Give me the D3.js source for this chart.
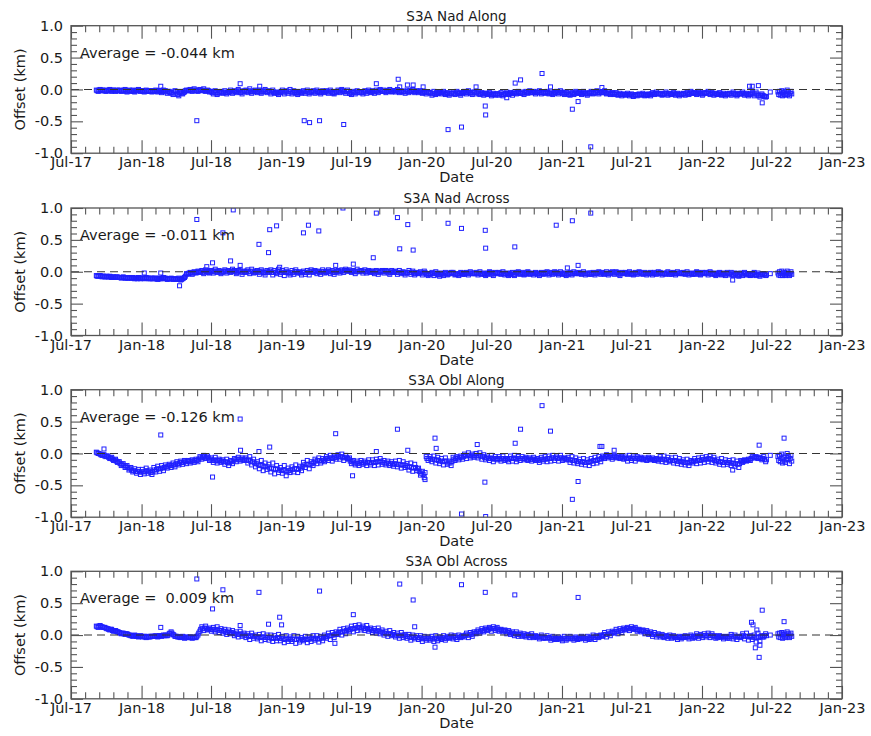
<!DOCTYPE html>
<html><head><meta charset="utf-8">
<script src="https://cdn.jsdelivr.net/npm/d3@7"></script>
<style>
body{margin:0;background:#fff}
svg{display:block;background:#fff}
text{font-family:"DejaVu Sans",sans-serif;fill:#1a1a1a}
</style>
</head><body>
<svg id="c" width="871" height="736"></svg>
<script>
// ---------------- DATA ----------------
const panelTitles = ["S3A Nad Along", "S3A Nad Across", "S3A Obl Along", "S3A Obl Across"];
const averageLabels = ["Average = -0.044 km", "Average = -0.011 km", "Average = -0.126 km", "Average =  0.009 km"];
const xTickDates = ["2017-07-01","2018-01-01","2018-07-01","2019-01-01","2019-07-01","2020-01-01","2020-07-01","2021-01-01","2021-07-01","2022-01-01","2022-07-01","2023-01-01"];
const xTickLabels = ["Jul-17","Jan-18","Jul-18","Jan-19","Jul-19","Jan-20","Jul-20","Jan-21","Jul-21","Jan-22","Jul-22","Jan-23"];
const yTickValues = [-1.0, -0.5, 0.0, 0.5, 1.0];
const yTickLabels = ["-1.0", "-0.5", "0.0", "0.5", "1.0"];
const xAxisLabel = "Date";
const yAxisLabel = "Offset (km)";

// regular acquisitions: series A every 5 days from bandStart, series B every 5 days from bandBStart,
// then a late cluster every 2 days
const bandStart = "2017-09-05", bandBStart = "2017-09-07", bandStepDays = 5;
const lateStart = "2022-07-18", lateStepDays = 2;

const nadAlongBand = [
-.01,-.03,0,-.02,-.01,-.03, -.02,0,-.03,-.01,-.03,-.01, -.01,-.03,-.02,0,-.04,-.02, -.03,-.01,-.04,-.02,0,-.03,
-.02,-.04,-.01,-.03,-.02,-.04, -.03,-.01,-.04,-.02,-.05,-.01, -.02,-.06,-.03,-.05,-.08,-.02, -.06,-.10,-.03,-.07,-.04,-.01,
-.02,0,-.03,.01,-.02,-.03, 0,-.02,.01,-.03,-.01,-.04, -.03,-.07,-.02,-.08,-.05,-.03, -.06,-.02,-.07,-.04,-.01,-.06,
-.02,-.05,0,-.04,-.07,-.02, -.01,-.05,.01,-.06,-.03,-.01, -.05,-.01,-.06,-.03,0,-.05, -.02,-.07,-.01,-.06,-.04,-.08,
-.05,-.01,-.07,-.02,-.06,0, -.07,-.02,-.05,-.08,-.03,-.06, -.02,-.06,-.01,-.07,-.04,-.02, -.06,-.01,-.04,-.07,-.02,-.05,
-.02,-.06,-.01,-.05,-.07,-.03, -.01,-.05,0,-.03,-.06,-.01, -.06,-.08,-.03,-.07,-.02,-.05, -.04,-.07,-.02,-.06,-.01,-.04,
-.02,-.06,-.01,-.05,0,-.03, -.01,-.05,-.03,0,-.04,-.02, -.04,0,-.05,-.02,-.03,-.06, -.01,-.05,-.03,0,-.05,-.02,
-.05,-.02,-.06,-.03,-.07,-.04, -.05,-.09,-.03,-.08,-.06,-.04, -.07,-.03,-.08,-.05,-.09,-.06, -.04,-.08,-.03,-.06,-.09,-.05,
-.03,-.07,-.02,-.05,-.08,-.04, -.07,-.03,-.08,-.05,-.09,-.06, -.08,-.05,-.10,-.06,-.09,-.07, -.09,-.05,-.10,-.07,-.04,-.08,
-.05,-.09,-.04,-.07,-.03,-.06, -.04,-.08,-.03,-.06,-.02,-.05, -.03,-.07,-.05,-.02,-.07,-.04, -.06,-.03,-.07,-.04,-.08,-.05,
-.03,-.07,-.02,-.05,-.08,-.04, -.07,-.09,-.05,-.08,-.03,-.06, -.05,-.08,-.03,-.06,-.09,-.05, -.03,-.07,-.05,-.02,-.07,-.04,
-.05,-.02,-.07,-.04,-.08,-.05, -.08,-.05,-.09,-.06,-.10,-.07, -.09,-.06,-.10,-.07,-.11,-.08, -.10,-.07,-.09,-.06,-.10,-.08,
-.07,-.10,-.05,-.08,-.04,-.07, -.06,-.09,-.07,-.04,-.09,-.06, -.08,-.05,-.09,-.06,-.10,-.07, -.06,-.09,-.05,-.08,-.03,-.06,
-.05,-.08,-.03,-.06,-.09,-.05, -.06,-.03,-.08,-.05,-.09,-.06, -.08,-.05,-.09,-.06,-.10,-.07, -.06,-.09,-.04,-.07,-.10,-.06,
-.07,-.04,-.09,-.06,-.10,-.07, -.05,-.10,-.04,-.09,-.12,-.07, -.10,-.12];
const nadAlongBandB = [
-.02,-.01,-.02,-.01,-.02,-.02, -.01,-.02,-.01,-.02,-.02,-.02, -.02,-.02,-.01,-.03,-.02,-.01, -.02,-.03,-.02,-.01,-.02,-.02,
-.03,-.02,-.03,-.02,-.03,-.02, -.02,-.03,-.02,-.03,-.03,-.02, -.04,-.03,-.05,-.06,-.04,-.03, -.08,-.05,-.06,-.05,-.02,-.02,
-.01,-.02,-.01,-.01,-.02,-.01, -.01,-.01,-.02,-.02,-.02,-.03, -.05,-.04,-.05,-.06,-.04,-.05, -.04,-.05,-.05,-.03,-.04,-.04,
-.03,-.03,-.02,-.05,-.04,-.03, -.03,-.02,-.03,-.04,-.02,-.03, -.03,-.04,-.04,-.02,-.03,-.03, -.04,-.04,-.04,-.05,-.06,-.05,
-.03,-.04,-.04,-.04,-.03,-.03, -.05,-.04,-.06,-.05,-.05,-.04, -.04,-.03,-.04,-.05,-.03,-.04, -.04,-.03,-.05,-.04,-.04,-.03,
-.04,-.04,-.03,-.06,-.05,-.04, -.03,-.02,-.02,-.04,-.03,-.03, -.06,-.05,-.05,-.04,-.04,-.05, -.05,-.04,-.04,-.03,-.03,-.05,
-.04,-.03,-.03,-.02,-.02,-.03, -.03,-.02,-.02,-.03,-.03,-.02, -.02,-.03,-.03,-.04,-.04,-.03, -.03,-.02,-.02,-.03,-.03,-.03,
-.03,-.04,-.05,-.05,-.04,-.05, -.06,-.07,-.06,-.05,-.06,-.05, -.05,-.06,-.06,-.07,-.07,-.06, -.06,-.06,-.05,-.07,-.06,-.05,
-.05,-.05,-.04,-.06,-.05,-.04, -.05,-.06,-.06,-.07,-.07,-.06, -.07,-.07,-.08,-.08,-.07,-.07, -.07,-.08,-.08,-.06,-.06,-.07,
-.06,-.06,-.06,-.05,-.05,-.06, -.06,-.05,-.05,-.04,-.04,-.05, -.05,-.04,-.04,-.05,-.05,-.05, -.05,-.05,-.06,-.06,-.06,-.05,
-.05,-.05,-.04,-.06,-.06,-.05, -.08,-.07,-.06,-.06,-.05,-.06, -.06,-.06,-.05,-.07,-.07,-.06, -.05,-.06,-.04,-.05,-.05,-.05,
-.04,-.05,-.06,-.06,-.06,-.06, -.07,-.07,-.08,-.08,-.08,-.08, -.08,-.08,-.08,-.09,-.09,-.09, -.08,-.08,-.08,-.08,-.09,-.09,
-.08,-.07,-.07,-.06,-.06,-.07, -.07,-.08,-.06,-.07,-.07,-.07, -.07,-.07,-.07,-.08,-.08,-.08, -.07,-.07,-.07,-.06,-.05,-.06,
-.06,-.06,-.05,-.07,-.07,-.06, -.05,-.06,-.06,-.07,-.07,-.07, -.07,-.07,-.08,-.08,-.08,-.07, -.07,-.07,-.06,-.08,-.08,-.07,
-.06,-.07,-.07,-.08,-.08,-.07, -.07,-.07,-.07,-.10,-.09,-.09, -.11,-.11];
const nadAlongLate = [-.04,-.08,-.03,-.09,-.06,-.02,-.10,-.05,-.08,-.03,-.09,-.06,-.01,-.08,-.04,-.10,-.06,-.03,-.07];
const nadAlongOutDates = ["2018-02-20","2018-05-25","2018-09-15","2018-11-05","2019-03-01","2019-03-15","2019-04-10","2019-06-12","2019-09-05","2019-11-01","2019-11-05","2019-11-25","2019-12-10","2020-01-05","2020-03-10","2020-04-14","2020-05-22","2020-06-15","2020-06-16","2020-08-10","2020-09-01","2020-09-15","2020-11-10","2020-12-02","2021-01-28","2021-02-12","2021-03-17","2021-04-15","2022-05-05","2022-05-12","2022-05-28","2022-06-07","2022-06-28"];
const nadAlongOutVals = [0.05,-0.49,0.09,0.05,-0.49,-0.52,-0.49,-0.55,0.09,0.16,0.04,0.07,0.07,0.04,-0.63,-0.59,0.04,-0.26,-0.40,-0.13,0.10,0.15,0.25,0.04,-0.31,-0.19,-0.90,0.03,0.05,0.05,0.06,-0.21,-0.04];

const nadAcrossBand = [
-.06,-.07,-.06,-.08,-.07,-.08, -.08,-.07,-.09,-.08,-.09,-.08, -.09,-.10,-.08,-.10,-.09,-.10, -.10,-.09,-.11,-.10,-.09,-.11,
-.10,-.11,-.09,-.10,-.11,-.10, -.11,-.10,-.12,-.10,-.11,-.09, -.10,-.12,-.11,-.10,-.12,-.11, -.12,-.10,-.13,-.11,-.09,-.03,
-.03,-.01,-.04,0,-.02,.01, -.01,.02,-.03,.03,0,-.02, .02,-.02,.04,-.01,.02,-.03, 0,.03,-.02,.02,-.01,.04,
.02,-.03,.01,.03,-.04,.01, -.01,.03,-.03,.04,-.02,0, .02,-.04,.03,-.01,-.05,.02, -.01,.03,-.05,.02,-.03,.04,
-.04,.02,-.06,.03,-.01,-.05, .02,-.04,.03,-.02,0,-.05, .01,-.04,.02,-.05,.03,-.01, .02,-.03,.01,-.04,.03,-.02,
-.01,.03,-.03,.02,-.04,.01, .02,-.02,.03,-.01,.04,.01, .03,-.01,.02,-.03,.04,0, .02,-.02,.03,-.02,.02,-.01,
.01,-.03,.02,-.04,0,.02, -.02,.02,0,-.04,.02,-.01, .01,-.04,.02,-.03,0,-.05, -.02,.02,-.04,.01,-.05,-.01,
-.03,0,-.05,.01,-.03,-.06, -.04,-.01,-.06,0,-.04,-.07, -.02,-.06,-.01,-.05,-.03,-.01, -.01,-.05,-.03,-.06,-.01,-.04,
-.04,-.01,-.05,0,-.03,-.02, -.01,-.05,0,-.04,-.02,-.06, -.04,0,-.02,-.06,-.01,-.03, -.01,-.04,0,-.05,-.02,-.06,
-.04,-.01,-.06,-.02,0,-.04, -.01,-.05,-.03,0,-.04,-.02, -.05,-.01,-.03,-.06,-.01,-.04, -.03,0,-.05,-.01,-.04,0,
-.01,-.05,0,-.04,-.02,-.06, -.04,-.01,-.05,0,-.03,-.02, -.01,-.04,0,-.05,-.02,-.04, -.04,-.01,-.05,-.02,0,-.04,
-.01,-.04,0,-.05,-.02,0, -.04,0,-.02,-.06,-.01,-.03, -.01,-.04,0,-.03,-.05,-.01, -.04,0,-.02,-.04,-.01,-.05,
-.03,-.01,-.05,-.01,-.04,0, -.01,-.05,-.02,-.04,0,-.04, -.04,-.01,-.05,0,-.03,-.02, -.01,-.04,0,-.05,-.02,-.04,
-.04,0,-.02,-.05,-.01,-.03, -.01,-.05,0,-.04,-.02,-.06, -.03,-.01,-.05,-.02,-.06,-.01, -.05,-.01,-.06,-.02,-.04,-.07,
-.02,-.06,-.01,-.05,-.03,-.06, -.05,-.01,-.06,-.02,-.07,-.04, -.03,-.06];
const nadAcrossBandB = [
-.07,-.06,-.07,-.07,-.08,-.07, -.08,-.08,-.08,-.09,-.08,-.09, -.09,-.09,-.09,-.10,-.10,-.09, -.10,-.10,-.10,-.11,-.10,-.10,
-.10,-.10,-.10,-.11,-.10,-.11, -.10,-.11,-.11,-.11,-.10,-.10, -.11,-.11,-.11,-.11,-.11,-.12, -.11,-.12,-.12,-.10,-.07,-.04,
-.02,-.02,-.02,-.01,-.01,0, 0,-.01,0,.01,-.01,0, 0,.01,.01,0,0,-.01, .01,.01,0,0,.01,.01,
0,-.01,.02,0,-.01,0, .01,0,0,.01,-.01,.01, -.01,0,.01,-.02,-.01,0, .01,-.01,-.01,-.01,0,.01,
-.01,-.01,-.01,0,-.02,-.02, -.01,0,0,-.01,-.02,-.01, -.01,-.01,-.01,0,.01,0, 0,0,-.01,0,0,0,
.01,0,0,-.01,-.01,0, 0,.01,.01,.02,.02,.01, .01,.01,0,0,.01,.01, .01,.01,0,0,0,.01,
-.01,0,0,-.01,.01,0, 0,.01,-.02,-.01,0,0, -.01,-.01,-.01,-.01,-.02,-.02, -.01,-.01,-.01,-.02,-.03,-.02,
-.02,-.02,-.02,-.01,-.04,-.03, -.03,-.03,-.03,-.02,-.05,-.04, -.04,-.03,-.03,-.04,-.02,-.02, -.03,-.04,-.04,-.03,-.02,-.03,
-.02,-.03,-.02,-.02,-.03,-.03, -.03,-.02,-.03,-.03,-.04,-.03, -.02,-.01,-.04,-.03,-.02,-.02, -.03,-.02,-.03,-.03,-.04,-.03,
-.02,-.04,-.04,-.01,-.02,-.03, -.03,-.04,-.01,-.02,-.03,-.03, -.03,-.02,-.04,-.03,-.02,-.03, -.01,-.03,-.03,-.02,-.02,-.02,
-.03,-.03,-.02,-.03,-.04,-.03, -.02,-.03,-.03,-.02,-.02,-.03, -.03,-.02,-.03,-.03,-.03,-.02, -.02,-.03,-.03,-.01,-.02,-.02,
-.03,-.02,-.03,-.03,-.01,-.02, -.02,-.01,-.04,-.03,-.02,-.02, -.03,-.02,-.02,-.04,-.03,-.02, -.02,-.01,-.03,-.02,-.03,-.03,
-.02,-.03,-.03,-.03,-.02,-.02, -.03,-.03,-.03,-.02,-.02,-.02, -.02,-.03,-.03,-.02,-.02,-.03, -.03,-.02,-.03,-.03,-.03,-.03,
-.02,-.01,-.04,-.03,-.02,-.02, -.03,-.02,-.02,-.03,-.04,-.04, -.02,-.03,-.04,-.04,-.03,-.03, -.03,-.04,-.04,-.03,-.06,-.04,
-.04,-.03,-.03,-.04,-.05,-.05, -.03,-.04,-.04,-.05,-.05,-.04, -.04,-.05];
const nadAcrossLate = [-.02,-.05,0,-.06,-.03,.01,-.06,-.02,-.05,-.01,-.06,-.03,.01,-.04,-.02,-.06,-.03,0,-.04];
const nadAcrossOutDates = ["2018-01-08","2018-02-20","2018-04-10","2018-05-25","2018-06-20","2018-07-05","2018-08-01","2018-08-21","2018-08-28","2018-09-15","2018-11-03","2018-11-28","2018-12-01","2018-12-19","2018-12-27","2019-02-27","2019-03-12","2019-04-08","2019-05-22","2019-06-10","2019-07-07","2019-08-28","2019-09-05","2019-10-30","2019-11-05","2019-11-26","2019-12-10","2020-03-10","2020-04-14","2020-06-15","2020-06-16","2020-08-31","2020-12-17","2021-01-15","2021-01-28","2021-02-12","2021-03-17","2022-03-22","2022-06-28"];
const nadAcrossOutVals = [-0.02,-0.02,-0.22,0.82,0.08,0.14,0.61,0.17,0.97,0.10,0.43,0.30,0.66,0.72,0.07,0.61,0.73,0.64,0.10,1.0,0.12,0.22,0.92,0.85,0.36,0.74,0.34,0.76,0.68,0.65,0.37,0.39,0.73,0.06,0.80,0.10,0.92,-0.13,-0.03];

const oblAlongBand = [
.02,0,-.01,-.03,-.02,-.05, -.04,-.08,-.06,-.11,-.09,-.14, -.13,-.19,-.16,-.22,-.19,-.26, -.22,-.29,-.24,-.31,-.25,-.33,
-.25,-.32,-.23,-.31,-.26,-.33, -.22,-.29,-.20,-.28,-.19,-.27, -.18,-.23,-.17,-.22,-.15,-.21, -.13,-.18,-.12,-.17,-.11,-.16,
-.11,-.15,-.10,-.14,-.09,-.13, -.05,-.09,-.03,-.08,-.04,-.11, -.07,-.14,-.06,-.15,-.09,-.14, -.10,-.17,-.09,-.19,-.11,-.16,
-.08,-.13,-.06,-.12,-.07,-.11, -.07,-.15,-.05,-.18,-.09,-.21, -.13,-.24,-.11,-.27,-.15,-.25, -.17,-.29,-.15,-.32,-.19,-.30,
-.22,-.31,-.19,-.35,-.23,-.30, -.21,-.29,-.18,-.30,-.20,-.27, -.14,-.22,-.11,-.24,-.13,-.19, -.09,-.16,-.07,-.15,-.08,-.13,
-.05,-.11,-.03,-.12,-.04,-.09, -.02,-.09,-.01,-.11,-.03,-.08, -.07,-.16,-.11,-.18,-.12,-.19, -.11,-.17,-.12,-.19,-.10,-.18,
-.10,-.19,-.09,-.18,-.08,-.17, -.11,-.18,-.12,-.19,-.13,-.20, -.12,-.21,-.11,-.23,-.13,-.22, -.16,-.26,-.15,-.28,-.17,-.27,
-.23,-.34,-.28,-.38,-.05,-.11, -.05,-.13,-.04,-.15,-.06,-.16, -.08,-.18,-.07,-.17,-.12,-.19, -.06,-.11,-.05,-.10,-.04,-.09,
-.01,-.08,.01,-.07,-.01,-.06, 0,-.07,.01,-.09,-.02,-.10, -.04,-.11,-.03,-.13,-.05,-.10, -.05,-.12,-.04,-.11,-.08,-.13,
-.04,-.12,-.03,-.13,-.05,-.11, -.05,-.10,-.06,-.11,-.07,-.12, -.06,-.11,-.08,-.14,-.06,-.12, -.05,-.13,-.04,-.12,-.03,-.11,
-.04,-.12,-.03,-.11,-.07,-.10, -.06,-.14,-.05,-.15,-.07,-.16, -.09,-.17,-.08,-.18,-.10,-.19, -.08,-.16,-.06,-.15,-.05,-.13,
-.04,-.08,-.02,-.07,-.03,-.09, -.03,-.07,-.04,-.08,-.05,-.09, -.04,-.12,-.03,-.11,-.04,-.12, -.05,-.09,-.06,-.10,-.07,-.11,
-.06,-.10,-.07,-.11,-.08,-.12, -.05,-.13,-.04,-.14,-.06,-.13, -.07,-.15,-.06,-.16,-.08,-.17, -.10,-.18,-.09,-.19,-.11,-.15,
-.08,-.16,-.07,-.15,-.06,-.14, -.05,-.13,-.04,-.14,-.06,-.15, -.09,-.17,-.08,-.18,-.10,-.17, -.11,-.19,-.10,-.20,-.12,-.22,
-.11,-.14,-.10,-.12,-.09,-.11, -.03,-.07,-.05,-.08,-.06,-.10, -.05,-.13];
const oblAlongBandB = [
.01,0,-.02,-.02,-.04,-.04, -.06,-.07,-.09,-.10,-.12,-.13, -.16,-.17,-.19,-.20,-.22,-.24, -.26,-.27,-.28,-.28,-.29,-.29,
-.29,-.28,-.27,-.28,-.30,-.29, -.26,-.25,-.24,-.24,-.23,-.22, -.21,-.20,-.19,-.19,-.18,-.17, -.16,-.15,-.14,-.14,-.13,-.12,
-.13,-.12,-.12,-.11,-.11,-.09, -.07,-.06,-.05,-.06,-.07,-.09, -.11,-.10,-.11,-.12,-.11,-.12, -.13,-.13,-.14,-.15,-.13,-.12,
-.10,-.09,-.09,-.10,-.09,-.09, -.11,-.10,-.12,-.13,-.15,-.16, -.18,-.19,-.19,-.21,-.20,-.21, -.23,-.24,-.24,-.25,-.24,-.26,
-.27,-.26,-.27,-.29,-.27,-.26, -.25,-.24,-.24,-.25,-.23,-.21, -.18,-.17,-.17,-.18,-.16,-.14, -.12,-.11,-.11,-.12,-.11,-.09,
-.08,-.07,-.07,-.08,-.06,-.06, -.05,-.05,-.06,-.07,-.06,-.09, -.12,-.13,-.15,-.15,-.16,-.15, -.14,-.15,-.15,-.14,-.14,-.15,
-.14,-.14,-.13,-.13,-.12,-.14, -.15,-.15,-.16,-.16,-.17,-.16, -.17,-.17,-.18,-.18,-.18,-.19, -.21,-.21,-.22,-.23,-.22,-.24,
-.28,-.31,-.33,-.30,-.08,-.08, -.09,-.09,-.10,-.10,-.11,-.12, -.13,-.12,-.12,-.15,-.15,-.13, -.09,-.08,-.07,-.07,-.06,-.05,
-.04,-.03,-.03,-.04,-.04,-.03, -.04,-.03,-.04,-.05,-.06,-.07, -.08,-.07,-.08,-.09,-.08,-.08, -.09,-.08,-.08,-.09,-.10,-.08,
-.08,-.07,-.08,-.09,-.08,-.08, -.08,-.08,-.09,-.09,-.09,-.09, -.09,-.10,-.11,-.10,-.09,-.09, -.09,-.08,-.08,-.07,-.07,-.07,
-.08,-.07,-.07,-.09,-.08,-.09, -.10,-.10,-.11,-.11,-.12,-.13, -.13,-.13,-.14,-.14,-.14,-.13, -.12,-.11,-.11,-.10,-.09,-.08,
-.06,-.05,-.05,-.05,-.06,-.06, -.05,-.06,-.06,-.07,-.07,-.07, -.08,-.07,-.08,-.07,-.08,-.08, -.07,-.08,-.08,-.09,-.09,-.09,
-.08,-.09,-.09,-.10,-.10,-.09, -.09,-.09,-.10,-.10,-.10,-.11, -.11,-.11,-.12,-.12,-.13,-.13, -.14,-.14,-.15,-.14,-.13,-.12,
-.12,-.11,-.11,-.10,-.10,-.09, -.09,-.08,-.09,-.10,-.11,-.12, -.13,-.13,-.14,-.14,-.14,-.14, -.15,-.15,-.16,-.16,-.17,-.16,
-.13,-.12,-.11,-.11,-.10,-.08, -.05,-.06,-.07,-.07,-.08,-.08, -.09,-.10];
const oblAlongLate = [-.05,-.11,-.03,-.13,-.08,-.01,-.15,-.06,-.12,-.04,-.14,-.09,0,-.10,-.05,-.16,-.08,-.03,-.12];
const oblAlongOutDates = ["2017-09-25","2018-02-20","2018-07-05","2018-09-15","2018-09-16","2018-11-03","2018-12-01","2019-05-22","2019-07-05","2019-09-05","2019-10-30","2019-11-26","2020-01-10","2020-02-05","2020-02-08","2020-04-14","2020-05-25","2020-06-14","2020-06-16","2020-09-01","2020-09-15","2020-11-10","2020-12-02","2021-01-28","2021-02-12","2021-04-10","2021-04-15","2021-05-17","2022-03-22","2022-05-30","2022-06-28","2022-08-03"];
const oblAlongOutVals = [0.07,0.29,-0.37,0.54,0.05,0.03,0.10,0.31,-0.35,0.03,0.38,0.05,-0.41,0.24,0.08,-0.95,0.14,-0.45,-0.99,0.16,0.38,0.75,0.35,-0.72,-0.44,0.11,0.11,0.05,-0.26,0.13,-0.03,0.24];

const oblAcrossBand = [
.14,.12,.15,.13,.12,.11, .10,.08,.09,.06,.07,.05, .04,.02,.03,.01,.02,0, -.01,-.02,0,-.02,-.03,-.01,
-.03,-.02,-.04,-.02,-.03,-.02, -.02,-.01,-.03,-.01,-.02,0, 0,-.01,.02,.05,.01,-.02, -.02,-.03,-.04,-.02,-.05,-.03,
-.04,-.03,-.05,-.03,-.04,0, .06,.13,.07,.14,.08,.11, .06,.12,.05,.13,.04,.10, .03,.09,.01,.08,.02,.07,
-.01,.05,-.03,.06,-.02,.03, -.04,.02,-.07,.03,-.05,0, -.06,.01,-.09,.02,-.07,0, -.08,0,-.10,-.01,-.09,.01,
-.09,-.02,-.12,-.01,-.10,-.03, -.10,-.01,-.13,-.02,-.11,-.04, -.09,-.02,-.12,-.03,-.10,-.01, -.08,-.01,-.11,-.02,-.09,0,
-.05,.03,-.07,.04,-.04,.05, .01,.09,0,.10,.02,.11, .06,.14,.05,.15,.07,.16, .08,.14,.07,.15,.06,.11,
.04,.10,.03,.11,.02,.08, 0,.06,-.02,.07,-.01,.04, -.03,.03,-.05,.04,-.04,.01, -.05,.01,-.08,0,-.06,-.01,
-.07,-.01,-.10,-.02,-.08,-.03, -.08,-.02,-.10,-.01,-.09,-.03, -.07,-.01,-.08,-.02,-.05,0, -.06,-.01,-.07,0,-.04,-.02,
-.03,.03,-.04,.04,-.02,.05, .02,.08,.03,.10,.05,.11, .07,.12,.06,.13,.07,.12, .06,.09,.05,.08,.02,.07,
.01,.05,-.01,.05,-.02,.03, -.02,.02,-.03,.01,-.04,.02, -.04,-.01,-.03,-.06,0,-.05, -.05,-.01,-.04,-.08,-.02,-.07,
-.07,-.03,-.06,-.09,-.02,-.08, -.06,-.02,-.05,-.08,-.03,-.07, -.06,-.02,-.05,-.08,-.02,-.07, -.06,0,-.07,-.01,-.04,0,
-.02,.04,-.03,.05,-.01,.06, .03,.09,.02,.10,.04,.11, .08,.12,.07,.13,.09,.12, .06,.09,.05,.08,.02,.07,
.01,.05,-.02,.04,-.03,.02, -.03,.01,-.04,-.01,-.05,0, -.05,-.01,-.04,-.07,-.02,-.06, -.04,-.01,-.03,-.06,0,-.05,
-.04,.02,-.05,.01,-.04,.02, -.03,.03,-.04,.02,-.03,-.05, -.04,-.01,-.03,-.06,-.02,-.05, -.05,.01,-.06,0,-.07,-.02,
-.04,.02,-.06,.03,-.08,-.01, -.07,0,-.11,.03,-.09,-.01, -.03,.02];
const oblAcrossBandB = [
.13,.14,.13,.12,.12,.10, .09,.09,.07,.07,.06,.05, .03,.03,.02,.02,.01,0, -.01,-.01,-.01,-.02,-.02,-.02,
-.02,-.03,-.03,-.03,-.02,-.02, -.02,-.02,-.02,-.01,-.01,-.01, -.01,0,.03,.03,0,-.02, -.03,-.03,-.03,-.03,-.04,-.04,
-.03,-.04,-.04,-.04,-.02,.03, .09,.10,.11,.10,.09,.09, .09,.08,.09,.08,.07,.07, .06,.05,.04,.05,.04,.03,
.02,.01,.01,.02,0,0, -.01,-.02,-.02,-.01,-.02,-.03, -.03,-.04,-.03,-.03,-.04,-.04, -.04,-.05,-.05,-.05,-.04,-.05,
-.05,-.06,-.07,-.06,-.06,-.07, -.06,-.07,-.07,-.06,-.08,-.07, -.06,-.07,-.07,-.06,-.05,-.06, -.05,-.06,-.06,-.05,-.04,-.03,
-.02,-.01,-.01,0,.01,.02, .04,.05,.05,.06,.07,.08, .09,.10,.10,.11,.12,.12, .11,.11,.10,.10,.09,.08,
.07,.06,.07,.06,.05,.04, .03,.02,.02,.02,.01,0, 0,-.01,-.01,0,-.01,-.02, -.02,-.03,-.04,-.03,-.04,-.04,
-.04,-.05,-.06,-.05,-.05,-.06, -.05,-.06,-.06,-.05,-.06,-.05, -.04,-.05,-.05,-.04,-.03,-.03, -.03,-.04,-.04,-.03,-.02,-.01,
0,0,0,.01,.02,.03, .05,.05,.06,.07,.08,.09, .09,.10,.10,.10,.10,.09, .08,.07,.07,.06,.05,.04,
.03,.02,.02,.01,.01,0, 0,-.01,-.01,-.01,-.01,-.02, -.02,-.03,-.03,-.03,-.03,-.04, -.04,-.04,-.05,-.05,-.05,-.05,
-.05,-.06,-.06,-.05,-.06,-.05, -.05,-.05,-.06,-.05,-.05,-.05, -.05,-.04,-.05,-.05,-.05,-.04, -.03,-.04,-.03,-.03,-.02,-.01,
0,.01,.01,.02,.03,.04, .05,.06,.06,.07,.08,.09, .10,.10,.10,.10,.10,.09, .08,.07,.07,.06,.05,.04,
.03,.02,.01,.01,0,0, -.01,-.02,-.02,-.02,-.02,-.03, -.03,-.03,-.04,-.04,-.04,-.03, -.03,-.03,-.03,-.02,-.03,-.02,
-.02,-.01,-.02,-.01,-.01,-.01, -.01,0,-.01,-.01,-.01,-.02, -.02,-.03,-.03,-.03,-.03,-.03, -.02,-.02,-.03,-.03,-.03,-.03,
-.02,-.01,-.02,-.02,-.03,-.03, -.03,-.04,-.03,-.04,-.02,-.03, -.01,-.01];
const oblAcrossLate = [.02,-.03,.03,-.04,0,.04,-.05,.01,-.03,.03,-.04,0,.05,-.02,.02,-.04,0,.03,-.02];
const oblAcrossOutDates = ["2018-02-20","2018-05-25","2018-07-05","2018-08-01","2018-09-15","2018-11-03","2018-11-28","2018-12-27","2019-01-01","2019-04-10","2019-05-20","2019-07-07","2019-11-05","2019-12-10","2019-12-14","2020-02-05","2020-04-14","2020-06-15","2020-08-31","2021-02-12","2022-05-10","2022-05-14","2022-05-20","2022-05-24","2022-05-30","2022-06-01","2022-06-07","2022-06-28","2022-08-03"];
const oblAcrossOutVals = [0.12,0.88,0.41,0.71,0.15,0.67,0.17,0.28,0.16,0.69,-0.13,0.32,0.80,0.55,0.13,-0.19,0.79,0.67,0.63,0.59,0.20,0.16,-0.20,0.08,-0.35,-0.16,0.39,0.00,0.21];

// ---------------- DRAWING ----------------
const panels = [
  {band: nadAlongBand,  bandB: nadAlongBandB,  late: nadAlongLate,  outD: nadAlongOutDates,  outV: nadAlongOutVals},
  {band: nadAcrossBand, bandB: nadAcrossBandB, late: nadAcrossLate, outD: nadAcrossOutDates, outV: nadAcrossOutVals},
  {band: oblAlongBand,  bandB: oblAlongBandB,  late: oblAlongLate,  outD: oblAlongOutDates,  outV: oblAlongOutVals},
  {band: oblAcrossBand, bandB: oblAcrossBandB, late: oblAcrossLate, outD: oblAcrossOutDates, outV: oblAcrossOutVals}
];

const svg = d3.select("#c");
const left = 71, right = 842, ph = 127.5;
const tops = [25.7, 208, 389.7, 571.3];
const frameColor = "#555";
const markColor = "#2020ff";
const fs = 14.5;
const parse = d3.timeParse("%Y-%m-%d");
const majorDates = xTickDates.map(parse);
const x = d3.scaleTime().domain([majorDates[0], majorDates[majorDates.length - 1]]).range([left, right]);

// minor x ticks: 5 subdivisions per labelled interval
const minorDates = [];
for (let i = 0; i < majorDates.length - 1; i++) {
  const a = +majorDates[i], b = +majorDates[i + 1];
  for (let j = 1; j < 5; j++) minorDates.push(new Date(a + (b - a) * j / 5));
}
const minorY = d3.range(-10, 11).filter(k => k % 5 !== 0).map(k => k / 10);

const bandStartDate = parse(bandStart);
const bandBStartDate = parse(bandBStart);
const lateStartDate = parse(lateStart);

function styleAxis(g) {
  g.select(".domain").remove();
  g.selectAll(".tick line").attr("stroke", frameColor).attr("stroke-width", 1.1);
  g.selectAll(".tick text").attr("font-size", fs).attr("font-family", '"DejaVu Sans", sans-serif').attr("fill", "#1a1a1a");
}

panels.forEach((p, i) => {
  const top = tops[i], bot = top + ph;
  const y = d3.scaleLinear().domain([-1, 1]).range([bot, top]);
  const g = svg.append("g");

  const clipId = "clip" + i;
  svg.append("clipPath").attr("id", clipId)
    .append("rect").attr("x", left).attr("y", top).attr("width", right - left).attr("height", ph);

  const pts = [];
  p.band.forEach((v, j) => pts.push([d3.timeDay.offset(bandStartDate, j * bandStepDays), v]));
  p.bandB.forEach((v, j) => pts.push([d3.timeDay.offset(bandBStartDate, j * bandStepDays), v]));
  p.late.forEach((v, j) => pts.push([d3.timeDay.offset(lateStartDate, j * lateStepDays), v]));
  p.outD.forEach((d, j) => pts.push([parse(d), p.outV[j]]));

  g.append("g").attr("clip-path", `url(#${clipId})`)
    .selectAll("rect").data(pts).join("rect")
    .attr("x", d => x(d[0]) - 2).attr("y", d => y(d[1]) - 2)
    .attr("width", 4).attr("height", 4)
    .attr("fill", "none").attr("stroke", markColor).attr("stroke-width", 1);

  // zero reference dashed line
  g.append("line")
    .attr("x1", left).attr("x2", right).attr("y1", y(0)).attr("y2", y(0))
    .attr("stroke", "#333").attr("stroke-width", 1.1).attr("stroke-dasharray", "8,5");

  // axes (ticks inward)
  g.append("g").attr("transform", `translate(0,${bot})`)
    .call(d3.axisBottom(x).tickValues(majorDates).tickSize(-13).tickPadding(4).tickFormat((d, k) => xTickLabels[k]))
    .call(styleAxis);
  g.append("g").attr("transform", `translate(0,${bot})`)
    .call(d3.axisBottom(x).tickValues(minorDates).tickSize(-6.5).tickFormat(""))
    .call(styleAxis);
  g.append("g").attr("transform", `translate(0,${top})`)
    .call(d3.axisTop(x).tickValues(majorDates).tickSize(-13).tickFormat(""))
    .call(styleAxis);
  g.append("g").attr("transform", `translate(0,${top})`)
    .call(d3.axisTop(x).tickValues(minorDates).tickSize(-6.5).tickFormat(""))
    .call(styleAxis);
  g.append("g").attr("transform", `translate(${left},0)`)
    .call(d3.axisLeft(y).tickValues(yTickValues).tickSize(-12).tickPadding(8).tickFormat((d, k) => yTickLabels[k]))
    .call(styleAxis);
  g.append("g").attr("transform", `translate(${left},0)`)
    .call(d3.axisLeft(y).tickValues(minorY).tickSize(-6).tickFormat(""))
    .call(styleAxis);
  g.append("g").attr("transform", `translate(${right},0)`)
    .call(d3.axisRight(y).tickValues(yTickValues).tickSize(-12).tickFormat(""))
    .call(styleAxis);
  g.append("g").attr("transform", `translate(${right},0)`)
    .call(d3.axisRight(y).tickValues(minorY).tickSize(-6).tickFormat(""))
    .call(styleAxis);

  // frame
  g.append("rect").attr("x", left).attr("y", top).attr("width", right - left).attr("height", ph)
    .attr("fill", "none").attr("stroke", frameColor).attr("stroke-width", 1.3);

  // texts
  g.append("text").attr("x", (left + right) / 2).attr("y", top - 5)
    .attr("text-anchor", "middle").attr("font-size", 13.5).text(panelTitles[i]);
  g.append("text").attr("x", 80).attr("y", top + 32)
    .attr("font-size", fs).attr("xml:space", "preserve").style("white-space", "pre").text(averageLabels[i]);
  g.append("text").attr("x", (left + right) / 2).attr("y", bot + 29)
    .attr("text-anchor", "middle").attr("font-size", fs).text(xAxisLabel);
  g.append("text").attr("transform", `translate(20,${(top + bot) / 2}) rotate(-90)`)
    .attr("text-anchor", "middle").attr("dominant-baseline", "central")
    .attr("font-size", fs).text(yAxisLabel);
});
</script>
</body></html>
